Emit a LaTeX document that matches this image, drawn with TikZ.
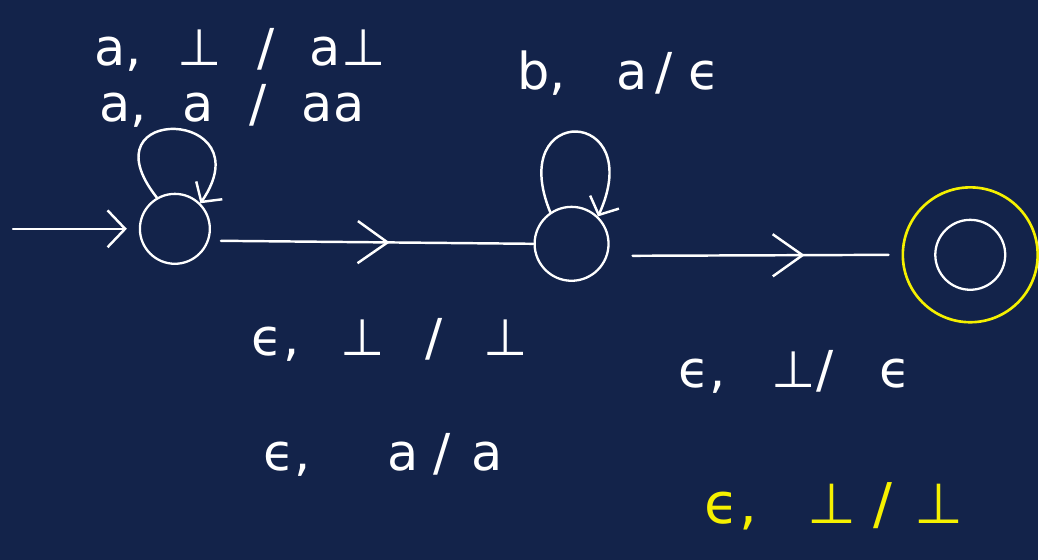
\documentclass[tikz,border=0pt]{standalone}
\usepackage{fontspec}
\setmainfont{DejaVu Sans}
\usetikzlibrary{arrows.meta, decorations.markings, calc}
\definecolor{bgNavy}{HTML}{13234A}
\definecolor{penWhite}{HTML}{FFFFFF}
\definecolor{penYellow}{HTML}{F5F000}
\newcommand{\gp}{\hspace{0.7em}}

\begin{document}
\begin{tikzpicture}[
  x=0.02cm, y=-0.02cm,
  every node/.style={font=\fontsize{29}{34}\selectfont, color=penWhite},
  state/.style={circle, draw=penWhite, line width=1.3pt, minimum size=1.4cm, inner sep=0pt},
  accring/.style={circle, draw=penYellow, line width=1.5pt, minimum size=2.7cm, inner sep=0pt},
  pen/.style={draw=penWhite, line width=1.4pt, line cap=round},
  midchev/.style={postaction={decorate}, decoration={markings,
    mark=at position #1 with {\arrow{Straight Barb[length=17pt, width=24pt]}}}}
]
\fill[bgNavy] (0,0) rectangle (1039,560);

\node[state] (q0) at (175,229) {};
\node[state, minimum size=1.48cm] (q1) at (572,244) {};
\node[state] (q2) at (971,255) {};
\node[accring] (q2ring) at (q2) {};
\coordinate (start) at (13,229);

\draw[pen, -{Straight Barb[length=10pt, width=21pt]}, shorten >=6.8pt] (start) -- (q0.west);
\draw[pen, midchev=0.54] ($(q0.east)+(10,12)$) -- (q1.west);
\draw[pen, midchev=0.64, shorten >=7.4pt] ($(q1.east)+(23,12)$) -- (q2ring.west);

\draw[pen, -{Straight Barb[length=8pt, width=18pt]}]
  (q0.120) .. controls +(-75,-95) and +(65,-95) .. (q0.45);
\draw[pen, -{Straight Barb[length=8pt, width=18pt]}]
  (q1.124) .. controls +(-45,-110) and +(50,-110) .. (q1.46);

\node (lblA) at (240,50)  {a,\gp ⊥\gp /\gp a⊥};
\node (lblB) at (232,106) {a,\gp a\gp /\gp aa};
\node (lblC) at (619,73)  {b,\hspace{1em}a\hspace{0.15em}/\hspace{0.3em}ϵ};
\node (lblD) at (390,340) {ϵ,\hspace{0.8em}⊥\hspace{0.8em}/\hspace{0.8em}⊥};
\node (lblE) at (383,455) {ϵ,\hspace{1.5em}a\hspace{0.3em}/\hspace{0.4em}a};
\node (lblF) at (795,372) {ϵ,\hspace{0.9em}⊥/\hspace{0.9em}ϵ};
\node[color=penYellow, font=\fontsize{32}{38}\selectfont] (lblG) at (835,507)
  {ϵ,\hspace{0.9em}⊥\hspace{0.3em}/\hspace{0.4em}⊥};
\end{tikzpicture}
\end{document}
